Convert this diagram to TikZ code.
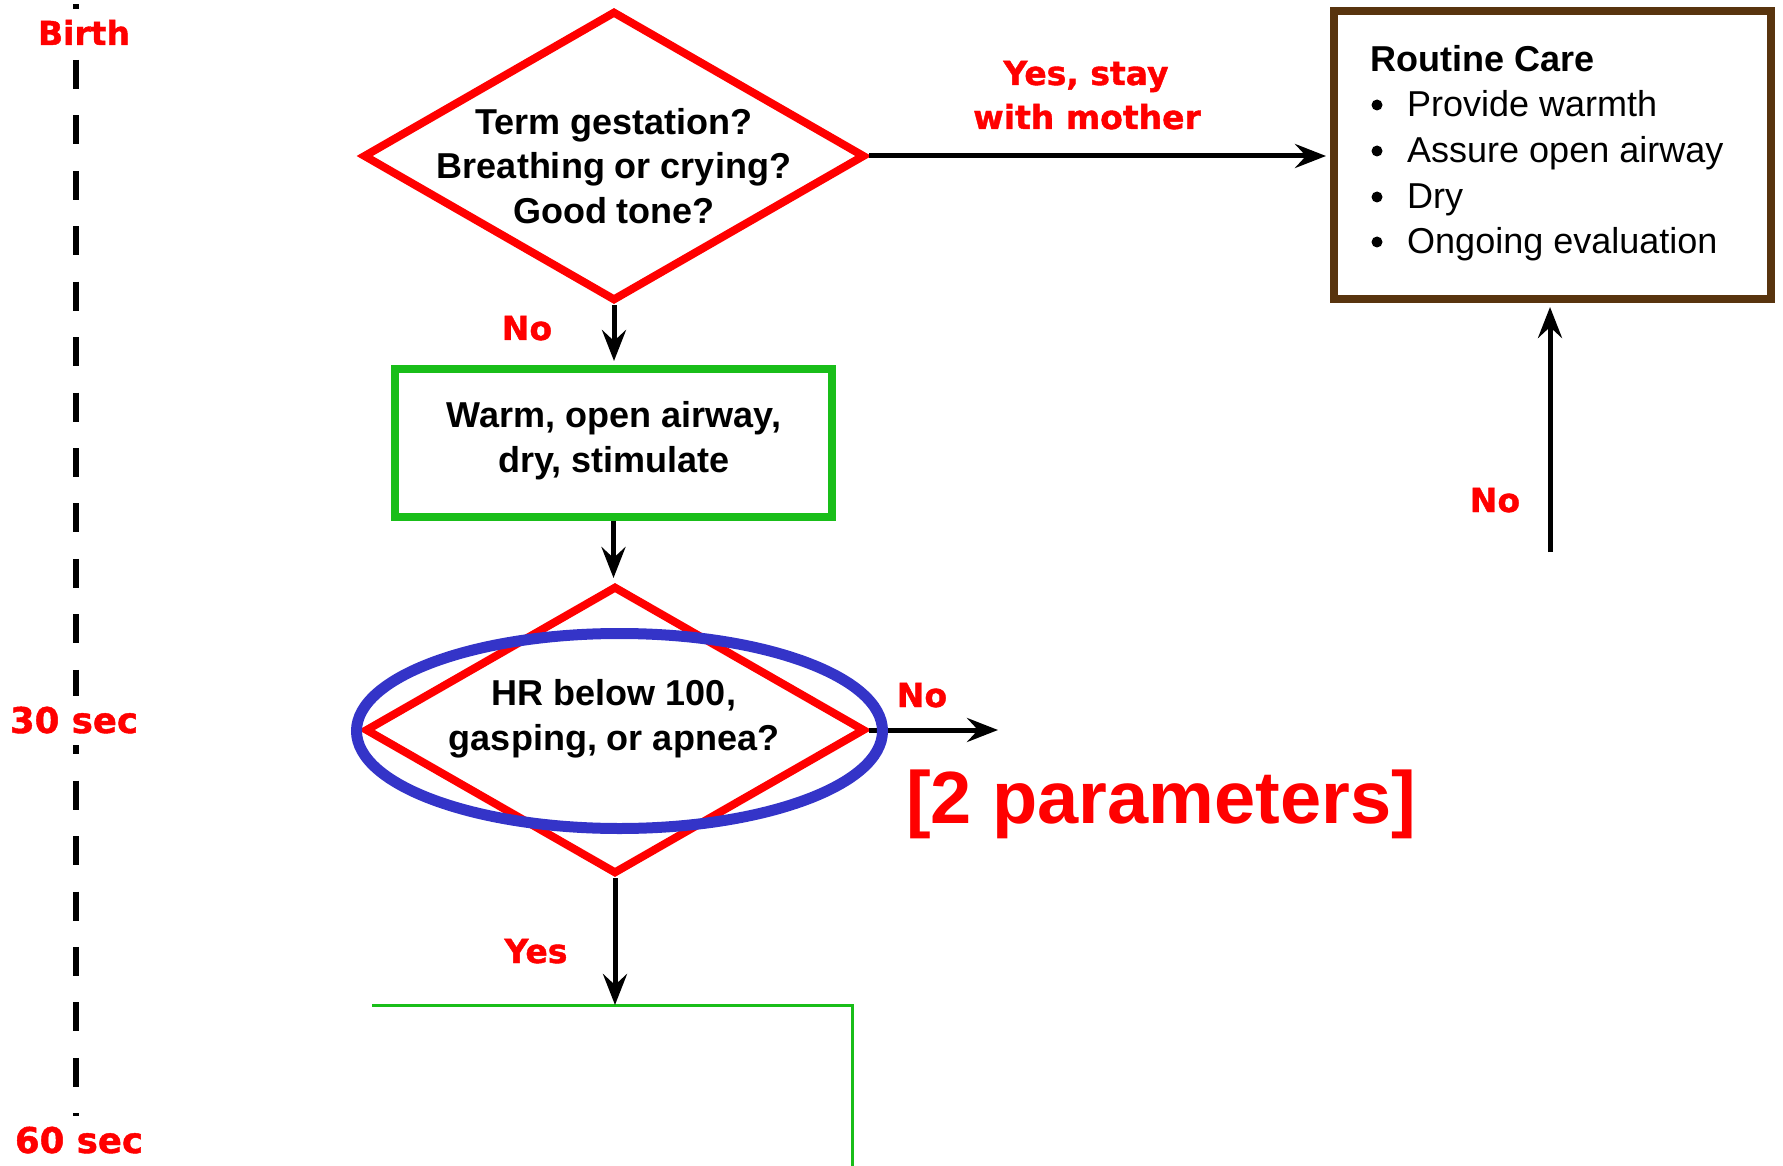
\documentclass[tikz,border=0pt]{standalone}
\usepackage{fontspec}
\setmainfont{Liberation Sans}
\newfontfamily\tagfont{DejaVu Sans Bold}[FakeBold=1.2]
\usetikzlibrary{shapes.geometric,arrows.meta}
\definecolor{flowred}{RGB}{255,0,0}
\definecolor{flowgreen}{RGB}{25,190,25}
\definecolor{flowbrown}{RGB}{88,52,14}
\definecolor{flowblue}{RGB}{52,52,200}
\begin{document}
\begin{tikzpicture}[x=1pt,y=-1pt,
  decision/.style={diamond, draw=flowred, line width=8pt, inner sep=0pt,
    minimum width=502pt, minimum height=290pt},
  actionbox/.style={rectangle, draw=flowgreen, line width=8pt, inner sep=0pt},
  carebox/.style={rectangle, draw=flowbrown, line width=8pt, inner sep=0pt,
    minimum width=437pt, minimum height=288pt},
  boxtext/.style={font=\bfseries\fontsize{36}{44}\selectfont, anchor=base, inner sep=0pt},
  caretext/.style={font=\fontsize{36}{44}\selectfont, anchor=base west, inner sep=0pt},
  redlabel/.style={text=flowred, font=\tagfont\fontsize{33}{40}\selectfont,
    anchor=base, inner sep=0pt},
  timelabel/.style={redlabel, font=\tagfont\fontsize{35.5}{40}\selectfont,
    fill=white, inner sep=11pt},
  flow/.style={draw=black, line width=5pt, -{Stealth[length=31pt,width=24pt,inset=11pt]}},
]
\useasboundingbox (0,0) rectangle (1783,1166);

% time axis on the left
\draw[line width=6pt, dash pattern=on 29pt off 26.44pt] (76,4.5) -- (76,1120);
\node[timelabel, font=\tagfont\fontsize{33}{40}\selectfont] (birth) at (84,45) {Birth};
\node[timelabel] (t30) at (74,733) {30 sec};
\node[timelabel] (t60) at (79,1153) {60 sec};

% shapes of the flow chart
\node[decision] (q1) at (614,156) {};
\node[actionbox, minimum width=437pt, minimum height=148pt] (warm) at (613.5,443) {};
\node[decision, minimum width=500pt, minimum height=288pt] (q2) at (615,730) {};
\node[carebox] (care) at (1552.5,155) {};

% texts inside the shapes
\node[boxtext] (q1a) at (614,135) {Term gestation?};
\node[boxtext] (q1b) at (614,179) {Breathing or crying?};
\node[boxtext] (q1c) at (614,224) {Good tone?};
\node[boxtext] (warma) at (614,427) {Warm, open airway,};
\node[boxtext] (warmb) at (614,472) {dry, stimulate};
\node[boxtext] (q2a) at (614,705) {HR below 100,};
\node[boxtext] (q2b) at (614,750) {gasping, or apnea?};

\node[caretext, font=\bfseries\fontsize{36}{44}\selectfont] (caretitle) at (1370,72) {Routine Care};
\foreach \y/\t [count=\i] in {117/Provide warmth, 163/Assure open airway, 209/Dry, 254/Ongoing evaluation} {
  \fill (1377,\y-12) circle (5.5pt);
  \node[caretext] (item\i) at (1407,\y) {\t};
}

% partly visible next step
\coordinate (nexttop) at (615,1005);
\draw[flowgreen, line width=3pt] (372,1005) -- (852,1005) -- (852,1170);

% connectors
\coordinate (noexit) at (998,730);
\coordinate (fromright) at (1550,552);
\draw[flow, shorten >=4pt] (q1.east) -- (q1.east -| care.west);
\draw[flow, shorten >=4pt] (q1.south) -- (q1.south |- warm.north);
\draw[flow, shorten >=4pt] (warm.south) -- (warm.south |- q2.north);
\draw[flow] (q2.east) -- (noexit);
\draw[flow] (q2.south) -- (nexttop);
\draw[flow, shorten >=4pt] (fromright) -- (fromright |- care.south);

% highlight around the second question
\node[ellipse, draw=flowblue, line width=11pt, minimum width=526pt, minimum height=195pt,
  inner sep=0pt] (mark) at (619.5,731) {};

% connector labels
\node[redlabel] (yesstay1) at (1086,85) {Yes, stay};
\node[redlabel] (yesstay2) at (1087,129) {with mother};
\node[redlabel] (no1) at (527,340) {No};
\node[redlabel] (no2) at (922,707) {No};
\node[redlabel] (no3) at (1495,512) {No};
\node[redlabel] (yes1) at (536,963) {Yes};
\node[text=flowred, font=\bfseries\fontsize{74}{80}\selectfont, anchor=base, inner sep=0pt]
  (params) at (1161,823) {[2 parameters]};
\end{tikzpicture}
\end{document}
